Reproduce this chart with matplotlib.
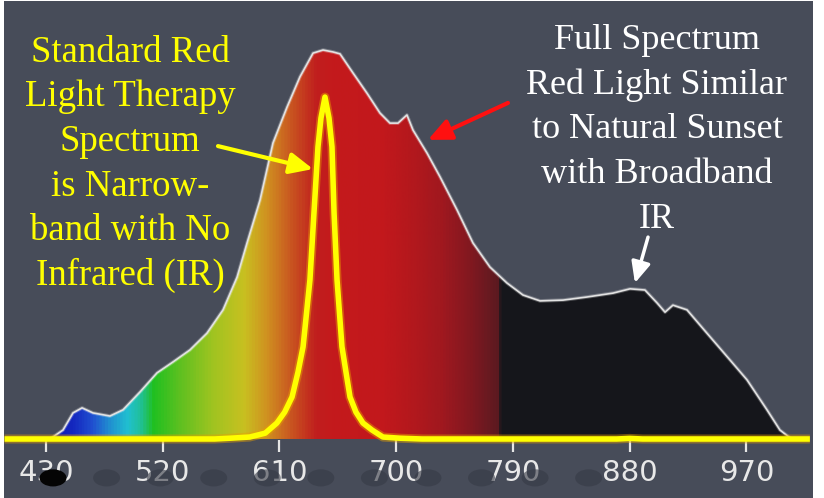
import numpy as np
import matplotlib.pyplot as plt
import matplotlib.patheffects as pe
from matplotlib.colors import LinearSegmentedColormap, Normalize
from matplotlib.patches import Polygon, Ellipse

# broadband "full spectrum" lamp: wavelength (nm) and relative intensity (%)
full_wl = [433.1, 443.1, 450.8, 457.8, 466.2, 479.3, 489.4, 502.5, 515.6, 527.9,
           541.0, 554.1, 566.5, 577.3, 585.0, 595.0, 605.0, 615.8, 625.8, 635.9,
           643.6, 651.3, 656.7, 666.7, 677.5, 687.5, 695.2, 701.4, 708.3, 713.0,
           723.8, 733.8, 746.9, 759.2, 772.3, 785.4, 797.8, 810.9, 828.6, 847.1,
           867.2, 880.3, 891.8, 901.1, 907.3, 913.4, 924.2, 939.6, 957.4, 970.5,
           985.9, 995.9, 1003.6]
full_int = [0.0, 2.3, 6.7, 8.0, 6.7, 5.9, 7.5, 12.1, 17.0, 19.8,
            22.9, 27.2, 33.2, 41.6, 50.4, 61.4, 76.1, 85.3, 93.1, 99.2,
            100.0, 99.5, 99.0, 94.1, 88.9, 83.8, 81.2, 81.2, 83.3, 79.4,
            73.5, 67.4, 58.9, 50.4, 44.2, 40.1, 37.0, 35.5, 35.7, 36.5,
            37.5, 38.6, 38.3, 35.0, 32.6, 34.4, 33.2, 27.2, 20.3, 15.2,
            7.5, 2.3, 0.3]

# standard narrow-band red LED
led_wl = [398, 560, 572, 587, 599, 608, 614, 619.7, 624.3, 628.2, 633.5, 636.6,
          639.7, 642, 645.1, 648.2, 650.5, 652.1, 654.4, 658.2, 661.3, 664.4,
          669, 674.4, 681.4, 689.8, 703, 720, 870, 880, 890, 1019]
led_int = [0, 0, 0.2, 0.5, 1.5, 4.1, 6.9, 10.8, 17.2, 23.7, 40.9, 58.1,
           75.1, 82.5, 87.9, 82.5, 75.1, 58.1, 40.9, 23.7, 17.2, 10.8,
           6.9, 4.1, 2.3, 0.5, 0.2, 0, 0, 0.15, 0, 0]

tick_nm = [430, 520, 610, 700, 790, 880, 970]

left_lines = ['Standard Red', 'Light Therapy', 'Spectrum',
              'is Narrow-', 'band with No', 'Infrared (IR)']
right_lines = ['Full Spectrum', 'Red Light Similar', 'to Natural Sunset',
               'with Broadband', 'IR']

BG = '#474c59'

# colour of the fill at each wavelength
stops = [(430, '#1018a8'), (450, '#1428c0'), (465, '#2050d0'), (478, '#2090d0'),
         (492, '#20c0d0'), (502, '#20c098'), (512, '#20c020'), (533, '#60c020'),
         (558, '#a0c420'), (582, '#c8c020'), (600, '#d09020'), (620, '#c85020'),
         (638, '#c01e1e'), (650, '#c41a1c'), (690, '#c2181c'), (712, '#b3181d'),
         (735, '#a0181f'), (758, '#801820'), (779.5, '#5a1a20'), (780.5, '#16171c'),
         (1010, '#15161b')]
lo, hi = stops[0][0], stops[-1][0]
spec_cmap = LinearSegmentedColormap.from_list(
    'spec', [((w - lo) / (hi - lo), c) for w, c in stops])

fig = plt.figure(figsize=(8.24, 4.98), dpi=100, facecolor='white')
ax = fig.add_axes([4 / 824, 0, 809 / 824, 497 / 498])
ax.set_facecolor(BG)

# gradient filled spectrum
grad = np.linspace(lo, hi, 1200).reshape(1, -1)
im = ax.imshow(grad, extent=[lo, hi, 0, 105], origin='lower', aspect='auto',
               cmap=spec_cmap, norm=Normalize(lo, hi), zorder=2)
verts = [(full_wl[0], 0)] + list(zip(full_wl, full_int)) + [(full_wl[-1], 0)]
shape = Polygon(verts, closed=True, facecolor='none', edgecolor='none')
ax.add_patch(shape)
im.set_clip_path(shape)
ax.plot(full_wl, full_int, color='#e2e2e2', lw=1.2, zorder=3,
        path_effects=[pe.Stroke(linewidth=2.6, foreground='white', alpha=0.25), pe.Normal()])

# narrow band LED
ax.plot(led_wl, led_int, color='#ffff00', lw=4, zorder=5, solid_capstyle='butt',
        path_effects=[pe.Stroke(linewidth=6.5, foreground='#e8a000', alpha=0.45), pe.Normal()])

ax.set_xlim(397.6, 1021.4)
ax.set_ylim(-15.17, 112.6)
ax.set_xticks([])
ax.set_yticks([])
for s in ax.spines.values():
    s.set_visible(False)

# wavelength scale below the baseline
ax.vlines(tick_nm, -3.4, -0.3, colors='#e6e6e6', lw=1.6, zorder=4)
for t in tick_nm:
    ax.text(t, -8.8, str(t), ha='center', va='center', family='DejaVu Sans',
            fontsize=21, color='#e8e8e8', zorder=5)

# slider dots under the axis
for i in range(11):
    ax.add_patch(Ellipse((435.4 + 41.3 * i, -10.0), 20.8, 4.4, zorder=6,
                         facecolor='#050505' if i == 0 else '#363a45',
                         alpha=1.0 if i == 0 else 0.6, edgecolor='none'))

# annotations
for i, line in enumerate(left_lines):
    ax.text(494.8, 97.0 - 11.47 * i, line, ha='center', va='baseline',
            family='Liberation Serif', fontsize=26.5, color='#ffff00', zorder=7)
for i, line in enumerate(right_lines):
    ax.text(901.1, 100.3 - 11.5 * i, line, ha='center', va='baseline',
            family='Liberation Serif', fontsize=26, color='white', zorder=7)

arrow = '-|>,head_length=0.7,head_width=0.32'
ax.annotate('', xy=(635.9, 69.4), xytext=(562.6, 75.3), zorder=8,
            arrowprops=dict(arrowstyle=arrow, color='#ffff00', lw=3, mutation_scale=20,
                            shrinkA=0, shrinkB=0))
ax.annotate('', xy=(724.5, 76.9), xytext=(786.2, 86.4), zorder=8,
            arrowprops=dict(arrowstyle=arrow, color='#ff1010', lw=3, mutation_scale=20,
                            shrinkA=0, shrinkB=0))
ax.annotate('', xy=(884.1, 40.1), xytext=(894.2, 51.9), zorder=8,
            arrowprops=dict(arrowstyle=arrow, color='white', lw=2.5, mutation_scale=18,
                            shrinkA=0, shrinkB=0))

fig.savefig('out.png', dpi=100, facecolor='white')
